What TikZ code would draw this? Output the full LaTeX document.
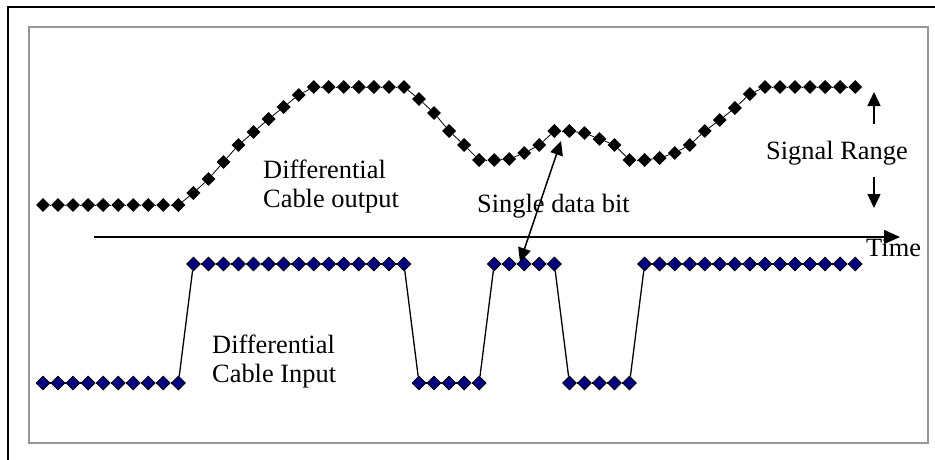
\documentclass[tikz,border=0pt]{standalone}
\usepackage{fontspec}
\setmainfont{Liberation Serif}
\usetikzlibrary{shapes.geometric,arrows.meta}
\definecolor{inputblue}{RGB}{0,0,128}
\definecolor{framegray}{RGB}{150,150,150}
\tikzset{
  sample/.style={diamond,aspect=1,inner sep=0pt,minimum width=14pt,minimum height=14pt},
  outsample/.style={sample,fill=black},
  insample/.style={sample,fill=inputblue,draw=black,line width=0.8pt},
  label/.style={inner sep=0pt,anchor=base west,align=left,
    font=\fontsize{26.4}{28.5}\selectfont},
  bigtip/.tip={Triangle[length=14pt,width=13pt]},
}
\begin{document}
\begin{tikzpicture}[x=1pt,y=-1pt]
\useasboundingbox (0,0) rectangle (935,460);
\fill[white] (0,0) rectangle (935,460);
% outer frame (top and left edges)
\draw[line width=2pt] (8,460) -- (8,7) -- (935,7);
% inner gray panel
\draw[framegray,line width=2pt] (29,27) rectangle (928,443);

% time axis
\coordinate (ax0) at (94,237);
\coordinate (ax1) at (900,237);
\draw[line width=1.5pt,-{Triangle[length=16pt,width=14pt]}] (ax0) -- (ax1);
\node[label] (time) at (866,256) {Time};

% cable output samples
\foreach \v [count=\i from 0] in {205,205,205,205,205,205,205,205,205,205,
  193,179,162,145,132,119,107,95,87,87,87,87,87,87,87,
  99,113,131,145,160,160,159,153,145,131,131,133,139,145,
  160,160,158,153,145,131,120,108,94,87,87,87,87,87,87,87}
  \node[outsample] (t\i) at ({43+15.04*\i},\v) {};
\foreach \i in {1,...,54}{
  \pgfmathtruncatemacro\j{\i-1}
  \draw[line width=0.8pt] (t\j) -- (t\i);
}

% cable input samples
\foreach \v [count=\i from 0] in {383,383,383,383,383,383,383,383,383,383,
  264,264,264,264,264,264,264,264,264,264,264,264,264,264,264,
  383,383,383,383,383,264,264,264,264,264,383,383,383,383,383,
  264,264,264,264,264,264,264,264,264,264,264,264,264,264,264}
  \node[insample] (b\i) at ({43+15.04*\i},\v) {};
\foreach \i in {1,...,54}{
  \pgfmathtruncatemacro\j{\i-1}
  \draw[line width=1.3pt] (b\j) -- (b\i);
}

% labels (base anchor sits on the last line)
\node[label] (outlbl) at (263,207) {Differential\\Cable output};
\node[label] (inlbl) at (212,382) {Differential\\Cable Input};
\node[label] (bitlbl) at (477,212) {Single data bit};
\node[label] (rangelbl) at (766,159) {Signal Range};

% signal range arrows
\coordinate (ru0) at (874,124);
\coordinate (ru1) at (874,92);
\coordinate (rd0) at (874,177);
\coordinate (rd1) at (874,208);
\draw[line width=1.5pt,-bigtip] (ru0) -- (ru1);
\draw[line width=1.5pt,-bigtip] (rd0) -- (rd1);

% single data bit arrow
\coordinate (bitA) at (561,141);
\coordinate (bitB) at (520,262);
\draw[line width=1.5pt,bigtip-bigtip] (bitB) -- (bitA);
\end{tikzpicture}
\end{document}
